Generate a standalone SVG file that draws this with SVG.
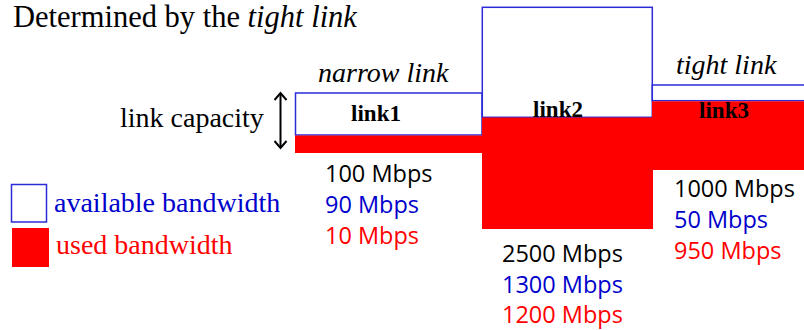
<svg xmlns="http://www.w3.org/2000/svg" width="804" height="330" viewBox="0 0 804 330">
<style>
.serif{font-family:"Liberation Serif","Times New Roman",serif;font-size:28px;fill:#000}
.it{font-style:italic}
.bold{font-weight:bold;font-size:23px;text-anchor:middle}
.num{font-family:"Open Sans","Liberation Sans",Arial,sans-serif;font-size:23.5px}
.k{fill:#000}.b{fill:#0000cc}.r{fill:#ff0000}
.avail{fill:#fff;stroke:#2b2bd8;stroke-width:1.5}
.used{fill:#ff0000}
</style>
<defs>
<marker id="ah" markerWidth="14" markerHeight="14" refX="8" refY="7" orient="auto-start-reverse" markerUnits="userSpaceOnUse">
<path d="M1,1 L8,7 L1,13" fill="none" stroke="#000" stroke-width="2"/>
</marker>
</defs>
<text class="serif" x="13" y="26.5" style="font-size:30.5px">Determined by the <tspan class="it">tight link</tspan></text>

<g id="link1">
<rect class="avail" x="295.5" y="93" width="186.5" height="42"/>
<rect class="used" x="295" y="135.5" width="187" height="17.5"/>
<text class="serif it" x="318" y="82">narrow link</text>
<text class="serif bold" x="376" y="121">link1</text>
<text class="num k" x="325" y="182">100 Mbps</text>
<text class="num b" x="325" y="213">90 Mbps</text>
<text class="num r" x="325" y="244">10 Mbps</text>
</g>

<g id="link2">
<rect class="avail" x="482.3" y="7.3" width="170" height="110"/>
<rect class="used" x="482" y="117.5" width="171" height="111.5"/>
<text class="serif bold" x="558" y="117">link2</text>
<text class="num k" x="502" y="262">2500 Mbps</text>
<text class="num b" x="502" y="292.5">1300 Mbps</text>
<text class="num r" x="502" y="323">1200 Mbps</text>
</g>

<g id="link3">
<rect class="avail" x="652.3" y="85" width="160" height="15.7"/>
<rect class="used" x="652" y="101.3" width="152" height="68.7"/>
<text class="serif it" x="676" y="74">tight link</text>
<text class="serif bold" x="724" y="118">link3</text>
<text class="num k" x="674" y="197">1000 Mbps</text>
<text class="num b" x="674" y="227.5">50 Mbps</text>
<text class="num r" x="674" y="258.5">950 Mbps</text>
</g>

<g id="capacity">
<text class="serif" x="120" y="127">link capacity</text>
</g>

<g id="connectors">
<line x1="280.5" y1="93" x2="280.5" y2="148" stroke="#000" stroke-width="2" marker-start="url(#ah)" marker-end="url(#ah)"/>
</g>

<g id="legend">
<rect class="avail" x="11.5" y="184.5" width="35" height="37.5"/>
<text class="serif b" x="54" y="212">available bandwidth</text>
<rect class="used" x="12" y="228" width="37" height="39"/>
<text class="serif r" x="56" y="254">used bandwidth</text>
</g>
</svg>
